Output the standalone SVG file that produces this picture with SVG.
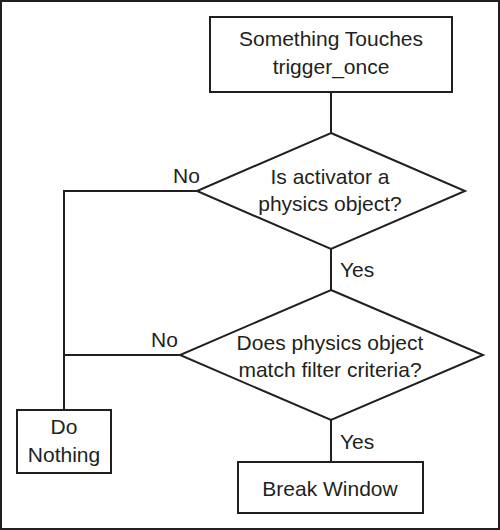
<svg xmlns="http://www.w3.org/2000/svg" width="500" height="530" viewBox="0 0 500 530">
<style>
.s{fill:#fff;stroke:#231f20;stroke-width:2}
.c{fill:none;stroke:#231f20;stroke-width:2}
text{font-family:"Liberation Sans",Arial,sans-serif;font-size:21px;fill:#231f20}
.m{text-anchor:middle}
</style>
<rect x="1" y="1" width="498" height="528" fill="#fff" stroke="#231f20" stroke-width="2"/>
<g id="connectors">
<path class="c" d="M331,92 V133"/>
<path class="c" d="M331,249 V290"/>
<path class="c" d="M331,420 V462"/>
<path class="c" d="M197,191 H64 V410"/>
<path class="c" d="M180,355 H64"/>
<text x="173" y="183">No</text>
<text x="151" y="347">No</text>
<text x="340" y="277">Yes</text>
<text x="340" y="449">Yes</text>
</g>
<g id="start">
<rect class="s" x="210" y="17" width="242" height="75"/>
<text class="m" x="331" y="46">Something Touches</text>
<text class="m" x="331" y="74">trigger_once</text>
</g>
<g id="decision1">
<polygon class="s" points="331,133 465,191 331,249 197,191"/>
<text class="m" x="330" y="184">Is activator a</text>
<text class="m" x="330" y="211">physics object?</text>
</g>
<g id="decision2">
<polygon class="s" points="331,290 483,355 331,420 180,355"/>
<text class="m" x="330" y="350">Does physics object</text>
<text class="m" x="330" y="377">match filter criteria?</text>
</g>
<g id="donothing">
<rect class="s" x="17" y="410" width="94" height="63"/>
<text class="m" x="64" y="434">Do</text>
<text class="m" x="64" y="462">Nothing</text>
</g>
<g id="breakwindow">
<rect class="s" x="238" y="462" width="185" height="51"/>
<text class="m" x="330" y="496">Break Window</text>
</g>
</svg>
